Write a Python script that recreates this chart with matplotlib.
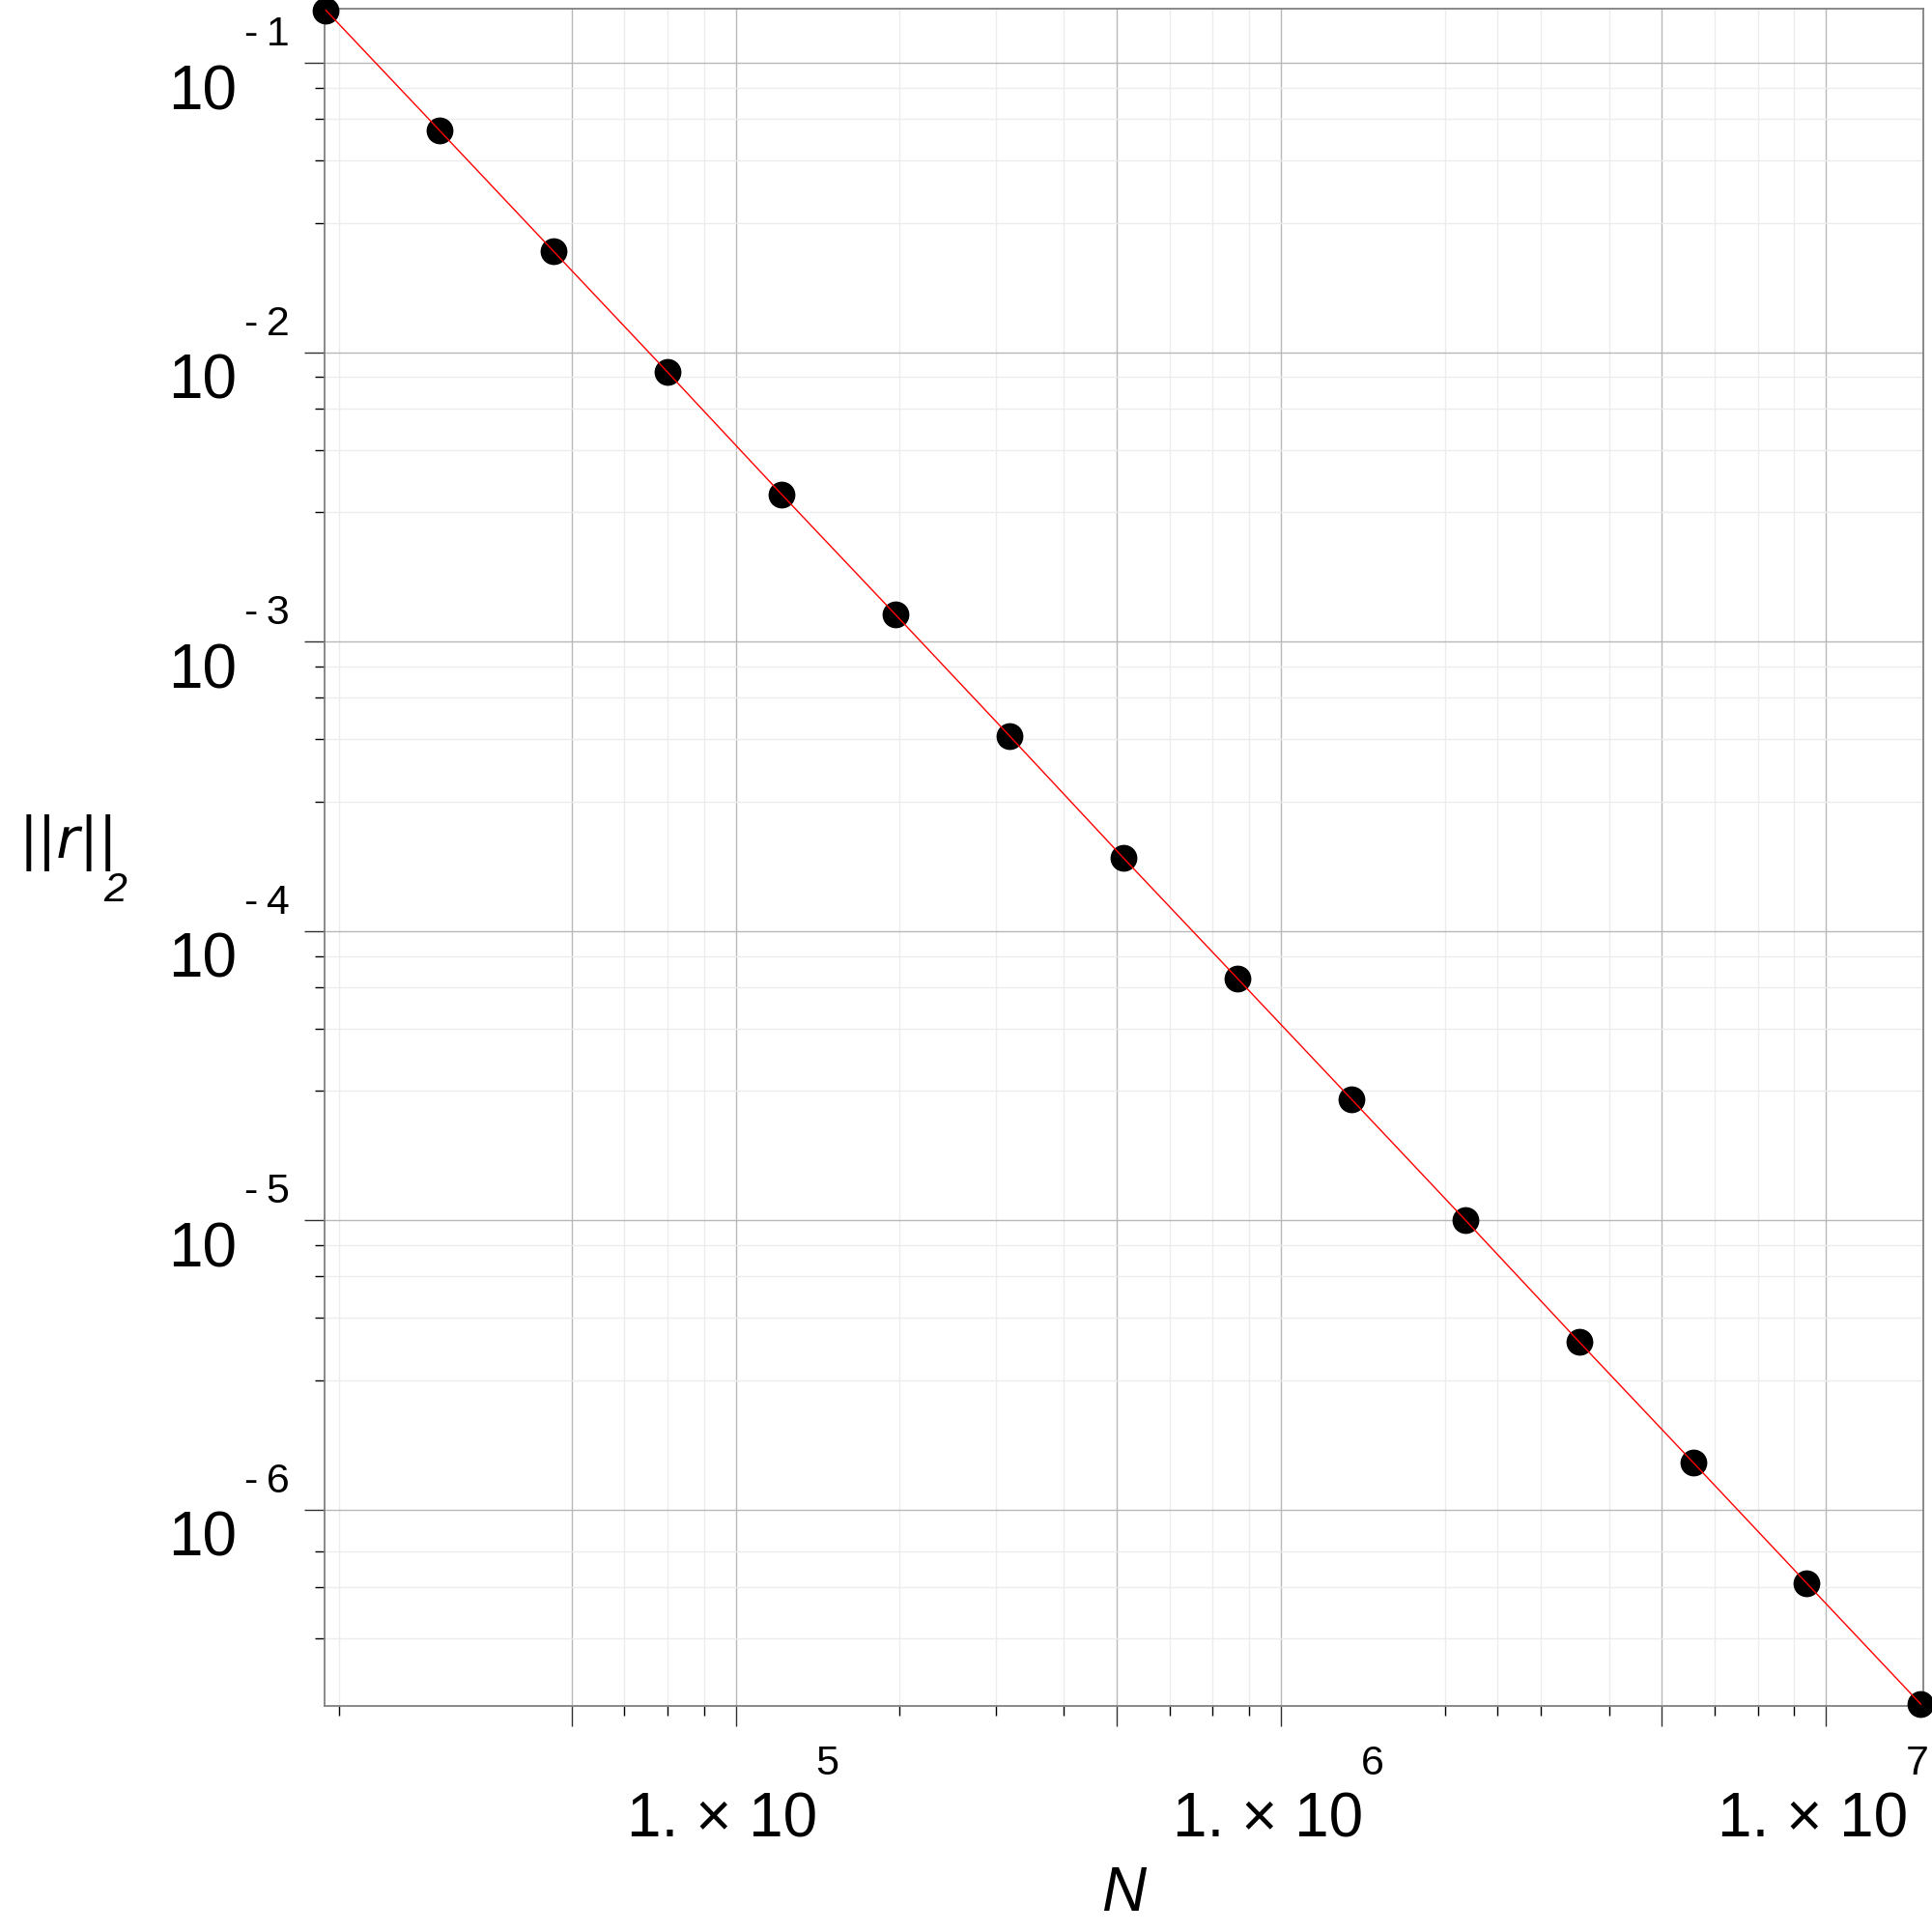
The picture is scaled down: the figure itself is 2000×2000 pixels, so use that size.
import matplotlib
matplotlib.use('Agg')
import matplotlib.pyplot as plt
from matplotlib.ticker import FixedLocator, NullFormatter

plt.rcParams['font.family'] = ['Liberation Sans', 'DejaVu Sans']

# residual norm vs N
N = [17711, 28657, 46368, 75025, 121393, 196418, 317811, 514229, 832040,
     1346269, 2178309, 3524578, 5702887, 9227465, 14930352]
r2 = [1.52e-1, 5.83e-2, 2.23e-2, 8.53e-3, 3.23e-3, 1.24e-3, 4.73e-4, 1.79e-4,
      6.87e-5, 2.63e-5, 1.005e-5, 3.81e-6, 1.46e-6, 5.57e-7, 2.13e-7]

x_major = [5e4, 1e5, 5e5, 1e6, 5e6, 1e7]
x_minor = [1.875e4, 6.25e4, 7.5e4, 8.75e4, 2e5, 3e5, 4e5, 6.25e5, 7.5e5, 8.75e5,
           2e6, 2.5e6, 3e6, 4e6, 6.25e6, 7.5e6, 8.75e6]
x_lab_pos = [1e5, 1e6, 1e7]
x_lab_exp = ['5', '6', '7']
y_major = [1e-1, 1e-2, 1e-3, 1e-4, 1e-5, 1e-6]
y_lab_exp = ['-1', '-2', '-3', '-4', '-5', '-6']
y_minor = [8.2e-2, 6.4e-2, 4.6e-2, 2.8e-2, 8.2e-3, 6.4e-3, 4.6e-3, 2.8e-3,
           8.2e-4, 6.4e-4, 4.6e-4, 2.8e-4, 8.2e-5, 6.4e-5, 4.6e-5, 2.8e-5,
           8.2e-6, 6.4e-6, 4.6e-6, 2.8e-6, 7.2e-7, 5.4e-7, 3.6e-7]

PT = 72/100.  # px -> pt at dpi 100
SPINE = '#808080'

fig = plt.figure(figsize=(20, 20), dpi=100)
ax = fig.add_axes([0.168, 0.117, 0.8275, 0.8785])
ax.set_xscale('log'); ax.set_yscale('log')
ax.set_xlim(17620, 1.509e7)
ax.set_ylim(2.10e-7, 0.1538)

ax.xaxis.set_major_locator(FixedLocator(x_major))
ax.xaxis.set_minor_locator(FixedLocator(x_minor))
ax.yaxis.set_major_locator(FixedLocator(y_major))
ax.yaxis.set_minor_locator(FixedLocator(y_minor))
for a in (ax.xaxis, ax.yaxis):
    a.set_major_formatter(NullFormatter()); a.set_minor_formatter(NullFormatter())

ax.tick_params(which='major', direction='out', length=21*PT, width=1.0, color='#303030')
ax.tick_params(which='minor', direction='out', length=10*PT, width=1.0, color='#000000')
ax.grid(which='major', color='#b8b8b8', lw=1.0)
ax.grid(which='minor', color='#ececec', lw=1.0)
ax.set_axisbelow(True)
for s in ax.spines.values():
    s.set_color(SPINE); s.set_linewidth(1.3)

ax.plot(N, r2, 'o', color='black', ms=19, zorder=3, clip_on=False)
ax.plot(N, r2, '-', color='red', lw=1.0, zorder=4, clip_on=False)

# Maple style tick labels
for v, e in zip(x_lab_pos, x_lab_exp):
    ax.annotate('1. \u00d7 10', xy=(v, 0), xycoords=('data', 'axes fraction'),
                xytext=(85*PT, -136*PT), textcoords='offset points',
                ha='right', va='baseline', fontsize=46, annotation_clip=False)
    ax.annotate(e, xy=(v, 0), xycoords=('data', 'axes fraction'),
                xytext=(83*PT, -71*PT), textcoords='offset points',
                ha='left', va='baseline', fontsize=31, annotation_clip=False)
for v, e in zip(y_major, y_lab_exp):
    ax.annotate('10', xy=(0, v), xycoords=('axes fraction', 'data'),
                xytext=(-91*PT, -48*PT), textcoords='offset points',
                ha='right', va='baseline', fontsize=46, annotation_clip=False)
    ax.annotate(e.replace('-', '-\u2009'), xy=(0, v), xycoords=('axes fraction', 'data'),
                xytext=(-83*PT, 18*PT), textcoords='offset points',
                ha='left', va='baseline', fontsize=31, annotation_clip=False)

fig.text(20/2000, 1-888/2000, '||r||', family='DejaVu Sans', style='oblique',
         fontsize=42, ha='left', va='baseline')
fig.text(107/2000, 1-933/2000, '2', style='italic', fontsize=31, ha='left', va='baseline')
fig.text(0.168+0.8275/2, 1-1978/2000, 'N', style='italic', fontsize=46, ha='center', va='baseline')

fig.savefig('out.png', dpi=100)
